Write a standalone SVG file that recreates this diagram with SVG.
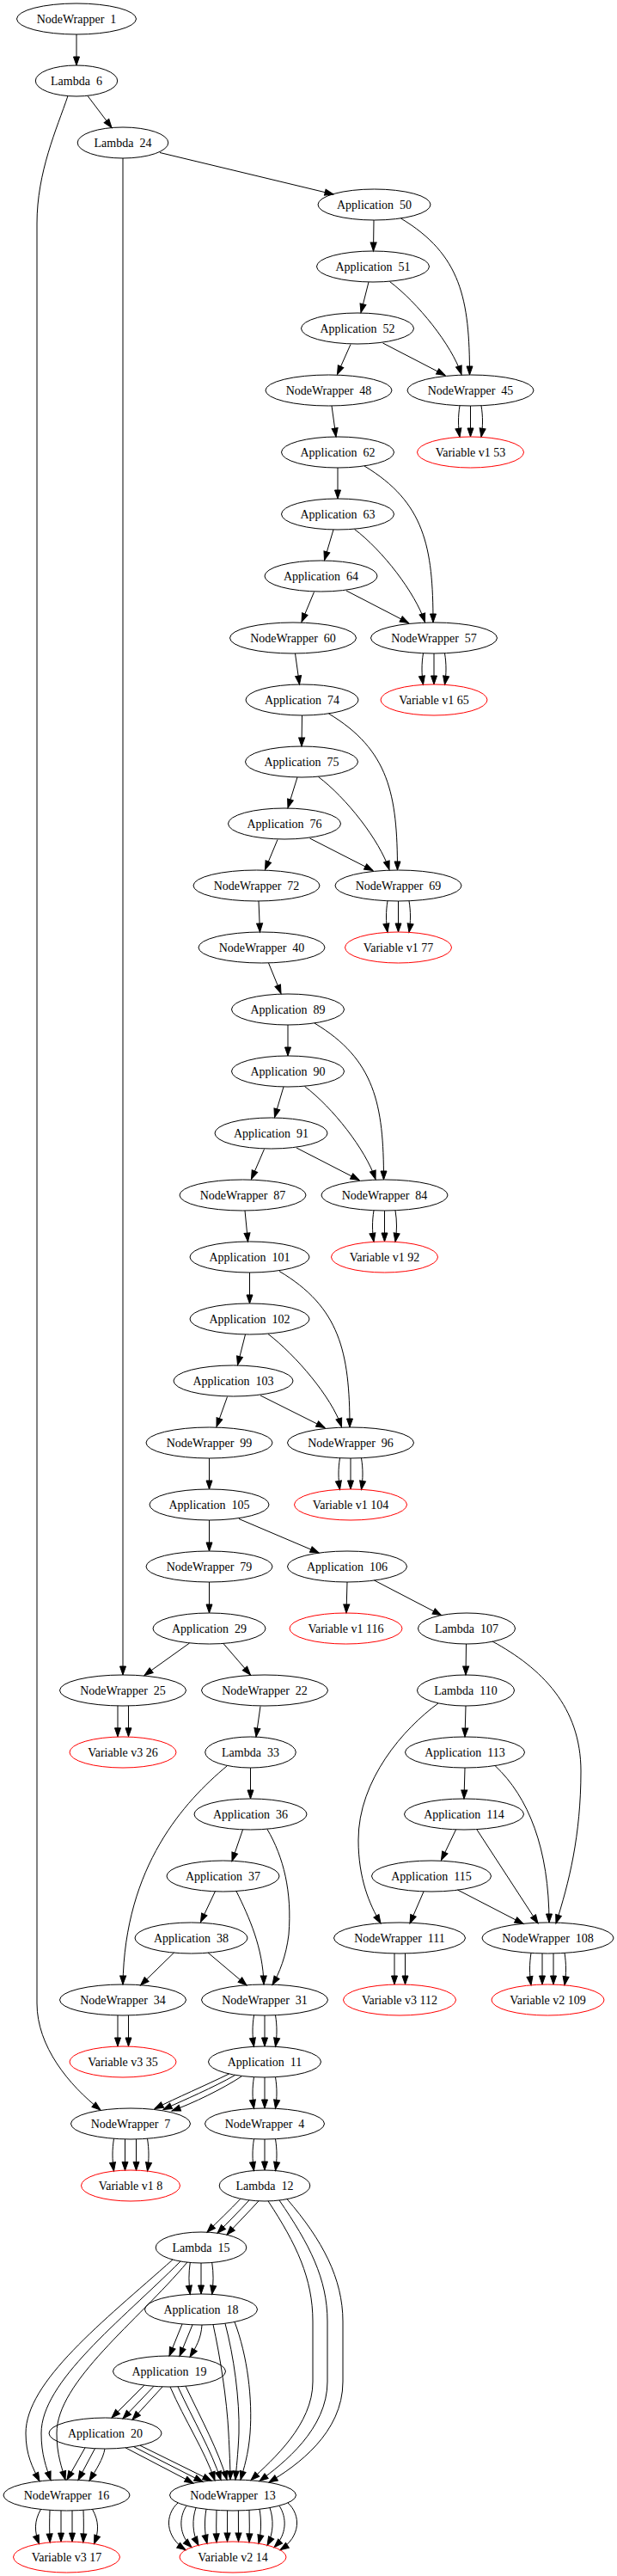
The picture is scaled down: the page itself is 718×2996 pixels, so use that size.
<svg xmlns="http://www.w3.org/2000/svg" width="718" height="2996" viewBox="0 0 718 2996">
<defs>
<marker id="a" markerUnits="userSpaceOnUse" markerWidth="10" markerHeight="7" refX="10" refY="3.5" orient="auto" overflow="visible"><path d="M0,0 L10,3.5 L0,7 Z" fill="#000" stroke="#000" stroke-width="1"/></marker>
<style>
.n ellipse{fill:none;stroke:#000;stroke-width:1}
.v ellipse{fill:none;stroke:#ff0000;stroke-width:1}
text{font-family:"Liberation Serif","Times New Roman",serif;font-size:14px;text-anchor:middle;white-space:pre;fill:#000}
.e path{fill:none;stroke:#000;stroke-width:1;marker-end:url(#a)}
</style>
</defs>
<rect x="0" y="0" width="718" height="2996" fill="#fff"/>
<g id="edges" class="e">
<path d="M89,40 L89,76"/>
<path d="M102,111.5 L130,148.5"/>
<path d="M79,111.5 C66,150 43,200 43,260 L43,2330 C43,2380 80,2425 117,2454"/>
<path d="M186,177.5 L388,226"/>
<path d="M143,184 L143,1948"/>
<path d="M435,256 L434.5,292"/>
<path d="M466.5,254 C536.5,296 546.5,348 546.5,436"/>
<path d="M429,328 L420,363.5"/>
<path d="M453.5,327.5 C486,352 525.5,401 537,435.5"/>
<path d="M408,400.5 L392.5,435.3"/>
<path d="M445.5,399 L518,436.5"/>
<path d="M535,471.8 C533,484 533,496 535,508.3"/>
<path d="M547.5,472 L547.5,508"/>
<path d="M560,471.8 C562,484 562,496 560,508.3"/>
<path d="M386,472 L391,508"/>
<path d="M393,544 L393,580"/>
<path d="M424,542 C494,584 504,636 504,724"/>
<path d="M388,616 L377.5,651.5"/>
<path d="M412.5,615.5 C445,640 483,689 494.5,723.5"/>
<path d="M365.5,688.5 L351,723.3"/>
<path d="M403,687 L475.5,724.5"/>
<path d="M492.5,759.8 C490.5,772 490.5,784 492.5,796.3"/>
<path d="M505,760 L505,796"/>
<path d="M517.5,759.8 C519.5,772 519.5,784 517.5,796.3"/>
<path d="M343.5,760 L348.5,796"/>
<path d="M351.5,832 L351,868"/>
<path d="M382.5,830 C452.5,872 462.5,924 462.5,1012"/>
<path d="M346,904 L335,939.5"/>
<path d="M370.5,903.5 C403,928 441.5,977 453,1011.5"/>
<path d="M323,976.5 L308.5,1011.3"/>
<path d="M360.5,975 L434,1012.5"/>
<path d="M451,1047.8 C449,1060 449,1072 451,1084.3"/>
<path d="M463.5,1048 L463.5,1084"/>
<path d="M476,1047.8 C478,1060 478,1072 476,1084.3"/>
<path d="M301,1048 L302.5,1084"/>
<path d="M312.5,1120 L327,1155.5"/>
<path d="M335,1192 L335,1228"/>
<path d="M366,1190 C436,1232 446.5,1284 446.5,1372"/>
<path d="M330,1264 L319.5,1299.5"/>
<path d="M354.5,1263.5 C387,1288 425.5,1337 437,1371.5"/>
<path d="M307.5,1336.5 L292.5,1371.3"/>
<path d="M345,1335 L418,1372.5"/>
<path d="M435,1407.8 C433,1420 433,1432 435,1444.3"/>
<path d="M447.5,1408 L447.5,1444"/>
<path d="M460,1407.8 C462,1420 462,1432 460,1444.3"/>
<path d="M285,1408 L288.5,1444"/>
<path d="M290.5,1480 L290.5,1516"/>
<path d="M325,1478.5 C395,1520 407,1572 407,1660"/>
<path d="M285.5,1552 L276.5,1587.5"/>
<path d="M312,1551.5 C344,1576 386,1625 397.5,1659.5"/>
<path d="M264.5,1624.5 L252,1659.3"/>
<path d="M303,1623 L378,1660.5"/>
<path d="M395.5,1695.8 C393.5,1708 393.5,1720 395.5,1732.4"/>
<path d="M408,1696 L408,1732"/>
<path d="M420.5,1695.8 C422.5,1708 422.5,1720 420.5,1732.4"/>
<path d="M243.5,1696 L243.5,1732"/>
<path d="M243.5,1768 L243.5,1804"/>
<path d="M278,1766.5 L371,1806"/>
<path d="M404,1840 L403,1876"/>
<path d="M435.5,1838 L513.5,1878.5"/>
<path d="M243.5,1840 L243.5,1876"/>
<path d="M220.5,1911 L168,1948.5"/>
<path d="M259.5,1911 L291.5,1948"/>
<path d="M542.5,1912 L542,1948"/>
<path d="M573,1909 C630,1940 676,1985 676,2060 C676,2135 662,2190 647,2237"/>
<path d="M510,1981 C470,2010 417,2070 417,2140 C417,2185 430,2215 443,2237"/>
<path d="M542,1984 L541,2020"/>
<path d="M137,1983.8 L137,2019.8"/>
<path d="M149.5,1983.8 L149.5,2019.8"/>
<path d="M303,1984.5 L298,2020"/>
<path d="M291.5,2056 L291.5,2092"/>
<path d="M264,2054 C215,2095 145,2170 143,2308"/>
<path d="M541,2056 L540,2092"/>
<path d="M576,2053.5 C615,2090 639,2150 639,2236"/>
<path d="M282.5,2128 L270,2164.5"/>
<path d="M311,2127.5 C330,2160 340,2200 336,2250 C333,2275 325,2295 317,2308.5"/>
<path d="M530.5,2128 L513.5,2163.5"/>
<path d="M555,2128 L626,2237"/>
<path d="M250.5,2199.5 L233.5,2235.5"/>
<path d="M275,2199.5 C290,2230 306,2265 307,2308"/>
<path d="M493,2200 L477,2237"/>
<path d="M532.5,2198 L609,2237.5"/>
<path d="M202.5,2271 L163.5,2309"/>
<path d="M242,2271 L287,2309"/>
<path d="M459,2272 L459,2308"/>
<path d="M471.5,2272 L471.5,2308"/>
<path d="M618,2271.4 C616,2284 616,2296 618,2308.8"/>
<path d="M631,2272 L631,2308"/>
<path d="M644,2272 L644,2308"/>
<path d="M657,2271.4 C659,2284 659,2296 657,2308.8"/>
<path d="M137,2344 L137,2380"/>
<path d="M149.5,2344 L149.5,2380"/>
<path d="M295.5,2343.8 C293.5,2356 293.5,2368 295.5,2380.3"/>
<path d="M308,2344 L308,2380"/>
<path d="M320.5,2343.8 C322.5,2356 322.5,2368 320.5,2380.3"/>
<path d="M266.5,2412 C240,2425 205,2440 180,2452.5"/>
<path d="M273.5,2413.5 C248,2428 215,2442 190,2453.5"/>
<path d="M281,2415 C258,2430 225,2446 200,2455"/>
<path d="M295.5,2415.8 C293.5,2428 293.5,2440 295.5,2452.3"/>
<path d="M308,2416 L308,2452"/>
<path d="M320.5,2415.8 C322.5,2428 322.5,2440 320.5,2452.3"/>
<path d="M132.5,2487.3 C130.5,2500 130.5,2512 132.5,2525.1"/>
<path d="M145.5,2488 L145.5,2524.4"/>
<path d="M158.5,2488 L158.5,2524.4"/>
<path d="M171.5,2487.3 C173.5,2500 173.5,2512 171.5,2525.1"/>
<path d="M295.5,2487.8 C293.5,2500 293.5,2512 295.5,2524.5"/>
<path d="M308,2488 L308,2524"/>
<path d="M320.5,2487.8 C322.5,2500 322.5,2512 320.5,2524.5"/>
<path d="M280,2557.2 C268,2570 253,2584 241,2596.2"/>
<path d="M290,2558.9 C279,2571 265,2585 253,2597.2"/>
<path d="M301,2559.8 C290,2572 276,2586 264,2599.2"/>
<path d="M312,2559.9 C345,2610 364,2650 364,2700 L364,2770 C364,2820 318,2860 292,2884.5"/>
<path d="M325,2559 C360,2610 381,2650 381,2700 L381,2770 C381,2825 330,2865 302,2885.5"/>
<path d="M334,2557.6 C375,2605 399,2650 399,2700 L399,2770 C399,2830 345,2868 313,2887"/>
<path d="M221.3,2631.3 C219.5,2643 219.5,2656 221.3,2668.3"/>
<path d="M234,2632 L234,2668"/>
<path d="M246.7,2631.3 C248.5,2643 248.5,2656 246.7,2668.3"/>
<path d="M201,2628 C120,2700 30,2770 30,2830 C30,2855 38,2870 46,2885.7"/>
<path d="M210,2630 C140,2700 48,2770 48,2830 C48,2855 54,2870 59,2884.6"/>
<path d="M218,2631 C160,2700 66,2770 66,2830 C66,2855 72,2870 76,2884"/>
<path d="M212,2703 L197,2740"/>
<path d="M224,2703.8 L209,2740.3"/>
<path d="M235,2704 C234,2720 228,2730 221,2741.3"/>
<path d="M248,2703.5 C256,2740 264,2790 266,2830 C267,2850 268,2870 268,2884"/>
<path d="M262,2702.3 C272,2740 279,2790 278,2830 C277,2855 275,2870 274,2884"/>
<path d="M273,2700.5 C288,2740 294,2790 291,2830 C289,2855 284,2870 280,2884.1"/>
<path d="M168,2774 L130,2812"/>
<path d="M179,2775.3 L143,2813"/>
<path d="M189,2776 L154,2814.2"/>
<path d="M198,2776 C215,2815 238,2850 250,2884.7"/>
<path d="M207,2775.8 C225,2815 246,2850 257,2884.4"/>
<path d="M216,2775.2 C235,2815 254,2850 264,2884.1"/>
<path d="M99,2846.8 L78,2884"/>
<path d="M110.5,2847.7 L91,2884.3"/>
<path d="M122,2848 C120,2860 112,2872 104,2885.2"/>
<path d="M146,2846.8 L225,2888"/>
<path d="M155.5,2845.6 L236,2886.6"/>
<path d="M163,2844.2 L246,2885.1"/>
<path d="M71,2919.9 L71,2956.1"/>
<path d="M84,2919.9 L84,2956.1"/>
<path d="M58,2919.4 C57.5,2932 57.5,2944 58.2,2956.9"/>
<path d="M97,2919.4 C97.5,2932 97.5,2944 96.8,2956.9"/>
<path d="M47.5,2918.4 C39.8,2932 39.8,2944 45.5,2958.6"/>
<path d="M107.5,2918.4 C115.2,2932 115.2,2944 109.5,2958.6"/>
<path d="M264.6,2919.9 L264.5,2956.1"/>
<path d="M252,2919.4 C251.6,2932 251.6,2944 252,2956.9"/>
<path d="M240,2918.3 C237.8,2931 237.8,2945 241,2958.3"/>
<path d="M228,2916.6 C223.5,2930 223.5,2946 231,2960.3"/>
<path d="M217,2914.3 C208,2928 208,2948 223,2962.6"/>
<path d="M207,2911 C191.7,2925 191.7,2950 216,2965.7"/>
<path d="M277.4,2919.9 L277.5,2956.1"/>
<path d="M290,2919.4 C290.4,2932 290.4,2944 290,2956.9"/>
<path d="M302,2918.3 C304.2,2931 304.2,2945 301,2958.3"/>
<path d="M314,2916.6 C318.5,2930 318.5,2946 311,2960.3"/>
<path d="M325,2914.3 C334,2928 334,2948 319,2962.6"/>
<path d="M335,2911 C350.3,2925 350.3,2950 326,2965.7"/>
</g>
<g id="NodeWrapper_1" class="n"><ellipse cx="89" cy="22" rx="69.5" ry="18"/><text x="89" y="26.5">NodeWrapper  1</text></g>
<g id="Lambda_6" class="n"><ellipse cx="89" cy="94" rx="47.7" ry="18"/><text x="89" y="98.5">Lambda  6</text></g>
<g id="Lambda_24" class="n"><ellipse cx="143" cy="166" rx="52.8" ry="18"/><text x="143" y="170.5">Lambda  24</text></g>
<g id="Application_50" class="n"><ellipse cx="435.5" cy="238" rx="65.5" ry="18"/><text x="435.5" y="242.5">Application  50</text></g>
<g id="Application_51" class="n"><ellipse cx="434" cy="310" rx="65.5" ry="18"/><text x="434" y="314.5">Application  51</text></g>
<g id="Application_52" class="n"><ellipse cx="416" cy="382" rx="65.5" ry="18"/><text x="416" y="386.5">Application  52</text></g>
<g id="NodeWrapper_48" class="n"><ellipse cx="382.5" cy="454" rx="73.5" ry="18"/><text x="382.5" y="458.5">NodeWrapper  48</text></g>
<g id="NodeWrapper_45" class="n"><ellipse cx="547.5" cy="454" rx="73.5" ry="18"/><text x="547.5" y="458.5">NodeWrapper  45</text></g>
<g id="Application_62" class="n"><ellipse cx="393" cy="526" rx="65.5" ry="18"/><text x="393" y="530.5">Application  62</text></g>
<g id="Variable_v1_53" class="v"><ellipse cx="547.5" cy="526" rx="62" ry="18"/><text x="547.5" y="530.5">Variable v1 53</text></g>
<g id="Application_63" class="n"><ellipse cx="393" cy="598" rx="65.5" ry="18"/><text x="393" y="602.5">Application  63</text></g>
<g id="Application_64" class="n"><ellipse cx="373.5" cy="670" rx="65.5" ry="18"/><text x="373.5" y="674.5">Application  64</text></g>
<g id="NodeWrapper_60" class="n"><ellipse cx="341" cy="742" rx="73.5" ry="18"/><text x="341" y="746.5">NodeWrapper  60</text></g>
<g id="NodeWrapper_57" class="n"><ellipse cx="505" cy="742" rx="73.5" ry="18"/><text x="505" y="746.5">NodeWrapper  57</text></g>
<g id="Application_74" class="n"><ellipse cx="351.5" cy="814" rx="65.5" ry="18"/><text x="351.5" y="818.5">Application  74</text></g>
<g id="Variable_v1_65" class="v"><ellipse cx="505" cy="814" rx="62" ry="18"/><text x="505" y="818.5">Variable v1 65</text></g>
<g id="Application_75" class="n"><ellipse cx="351" cy="886" rx="65.5" ry="18"/><text x="351" y="890.5">Application  75</text></g>
<g id="Application_76" class="n"><ellipse cx="331" cy="958" rx="65.5" ry="18"/><text x="331" y="962.5">Application  76</text></g>
<g id="NodeWrapper_72" class="n"><ellipse cx="298.5" cy="1030" rx="73.5" ry="18"/><text x="298.5" y="1034.5">NodeWrapper  72</text></g>
<g id="NodeWrapper_69" class="n"><ellipse cx="463.5" cy="1030" rx="73.5" ry="18"/><text x="463.5" y="1034.5">NodeWrapper  69</text></g>
<g id="NodeWrapper_40" class="n"><ellipse cx="304.5" cy="1102" rx="73.5" ry="18"/><text x="304.5" y="1106.5">NodeWrapper  40</text></g>
<g id="Variable_v1_77" class="v"><ellipse cx="463.5" cy="1102" rx="62" ry="18"/><text x="463.5" y="1106.5">Variable v1 77</text></g>
<g id="Application_89" class="n"><ellipse cx="335" cy="1174" rx="65.5" ry="18"/><text x="335" y="1178.5">Application  89</text></g>
<g id="Application_90" class="n"><ellipse cx="335" cy="1246" rx="65.5" ry="18"/><text x="335" y="1250.5">Application  90</text></g>
<g id="Application_91" class="n"><ellipse cx="315.5" cy="1318" rx="65.5" ry="18"/><text x="315.5" y="1322.5">Application  91</text></g>
<g id="NodeWrapper_87" class="n"><ellipse cx="282.5" cy="1390" rx="73.5" ry="18"/><text x="282.5" y="1394.5">NodeWrapper  87</text></g>
<g id="NodeWrapper_84" class="n"><ellipse cx="447.5" cy="1390" rx="73.5" ry="18"/><text x="447.5" y="1394.5">NodeWrapper  84</text></g>
<g id="Application_101" class="n"><ellipse cx="290.5" cy="1462" rx="69.5" ry="18"/><text x="290.5" y="1466.5">Application  101</text></g>
<g id="Variable_v1_92" class="v"><ellipse cx="447.5" cy="1462" rx="62" ry="18"/><text x="447.5" y="1466.5">Variable v1 92</text></g>
<g id="Application_102" class="n"><ellipse cx="290.5" cy="1534" rx="69.5" ry="18"/><text x="290.5" y="1538.5">Application  102</text></g>
<g id="Application_103" class="n"><ellipse cx="271.5" cy="1606" rx="69.5" ry="18"/><text x="271.5" y="1610.5">Application  103</text></g>
<g id="NodeWrapper_99" class="n"><ellipse cx="243.5" cy="1678" rx="73.5" ry="18"/><text x="243.5" y="1682.5">NodeWrapper  99</text></g>
<g id="NodeWrapper_96" class="n"><ellipse cx="408" cy="1678" rx="73.5" ry="18"/><text x="408" y="1682.5">NodeWrapper  96</text></g>
<g id="Application_105" class="n"><ellipse cx="243.5" cy="1750" rx="69.5" ry="18"/><text x="243.5" y="1754.5">Application  105</text></g>
<g id="Variable_v1_104" class="v"><ellipse cx="408" cy="1750" rx="65.5" ry="18"/><text x="408" y="1754.5">Variable v1 104</text></g>
<g id="NodeWrapper_79" class="n"><ellipse cx="243.5" cy="1822" rx="73.5" ry="18"/><text x="243.5" y="1826.5">NodeWrapper  79</text></g>
<g id="Application_106" class="n"><ellipse cx="404" cy="1822" rx="69.5" ry="18"/><text x="404" y="1826.5">Application  106</text></g>
<g id="Application_29" class="n"><ellipse cx="243.5" cy="1894" rx="65.5" ry="18"/><text x="243.5" y="1898.5">Application  29</text></g>
<g id="Variable_v1_116" class="v"><ellipse cx="402.5" cy="1894" rx="65.5" ry="18"/><text x="402.5" y="1898.5">Variable v1 116</text></g>
<g id="Lambda_107" class="n"><ellipse cx="543" cy="1894" rx="56.5" ry="18"/><text x="543" y="1898.5">Lambda  107</text></g>
<g id="NodeWrapper_25" class="n"><ellipse cx="143" cy="1966" rx="73.5" ry="18"/><text x="143" y="1970.5">NodeWrapper  25</text></g>
<g id="NodeWrapper_22" class="n"><ellipse cx="308" cy="1966" rx="73.5" ry="18"/><text x="308" y="1970.5">NodeWrapper  22</text></g>
<g id="Lambda_110" class="n"><ellipse cx="542" cy="1966" rx="56.5" ry="18"/><text x="542" y="1970.5">Lambda  110</text></g>
<g id="Variable_v3_26" class="v"><ellipse cx="143" cy="2038" rx="62" ry="18"/><text x="143" y="2042.5">Variable v3 26</text></g>
<g id="Lambda_33" class="n"><ellipse cx="291.5" cy="2038" rx="52.8" ry="18"/><text x="291.5" y="2042.5">Lambda  33</text></g>
<g id="Application_113" class="n"><ellipse cx="541" cy="2038" rx="69.5" ry="18"/><text x="541" y="2042.5">Application  113</text></g>
<g id="Application_36" class="n"><ellipse cx="291.5" cy="2110" rx="65.5" ry="18"/><text x="291.5" y="2114.5">Application  36</text></g>
<g id="Application_114" class="n"><ellipse cx="540" cy="2110" rx="69.5" ry="18"/><text x="540" y="2114.5">Application  114</text></g>
<g id="Application_37" class="n"><ellipse cx="259.5" cy="2182" rx="65.5" ry="18"/><text x="259.5" y="2186.5">Application  37</text></g>
<g id="Application_115" class="n"><ellipse cx="502" cy="2182" rx="69.5" ry="18"/><text x="502" y="2186.5">Application  115</text></g>
<g id="Application_38" class="n"><ellipse cx="222.5" cy="2254" rx="65.5" ry="18"/><text x="222.5" y="2258.5">Application  38</text></g>
<g id="NodeWrapper_111" class="n"><ellipse cx="465" cy="2254" rx="76.5" ry="18"/><text x="465" y="2258.5">NodeWrapper  111</text></g>
<g id="NodeWrapper_108" class="n"><ellipse cx="637.5" cy="2254" rx="76.5" ry="18"/><text x="637.5" y="2258.5">NodeWrapper  108</text></g>
<g id="NodeWrapper_34" class="n"><ellipse cx="143" cy="2326" rx="73.5" ry="18"/><text x="143" y="2330.5">NodeWrapper  34</text></g>
<g id="NodeWrapper_31" class="n"><ellipse cx="308" cy="2326" rx="73.5" ry="18"/><text x="308" y="2330.5">NodeWrapper  31</text></g>
<g id="Variable_v3_112" class="v"><ellipse cx="465" cy="2326" rx="65.5" ry="18"/><text x="465" y="2330.5">Variable v3 112</text></g>
<g id="Variable_v2_109" class="v"><ellipse cx="637.5" cy="2326" rx="65.5" ry="18"/><text x="637.5" y="2330.5">Variable v2 109</text></g>
<g id="Variable_v3_35" class="v"><ellipse cx="143" cy="2398" rx="62" ry="18"/><text x="143" y="2402.5">Variable v3 35</text></g>
<g id="Application_11" class="n"><ellipse cx="308" cy="2398" rx="65.5" ry="18"/><text x="308" y="2402.5">Application  11</text></g>
<g id="NodeWrapper_7" class="n"><ellipse cx="152" cy="2470" rx="69.5" ry="18"/><text x="152" y="2474.5">NodeWrapper  7</text></g>
<g id="NodeWrapper_4" class="n"><ellipse cx="308" cy="2470" rx="69.5" ry="18"/><text x="308" y="2474.5">NodeWrapper  4</text></g>
<g id="Variable_v1_8" class="v"><ellipse cx="152" cy="2542" rx="57.5" ry="18"/><text x="152" y="2546.5">Variable v1 8</text></g>
<g id="Lambda_12" class="n"><ellipse cx="308" cy="2542" rx="52.8" ry="18"/><text x="308" y="2546.5">Lambda  12</text></g>
<g id="Lambda_15" class="n"><ellipse cx="234" cy="2614" rx="52.8" ry="18"/><text x="234" y="2618.5">Lambda  15</text></g>
<g id="Application_18" class="n"><ellipse cx="234" cy="2686" rx="65.5" ry="18"/><text x="234" y="2690.5">Application  18</text></g>
<g id="Application_19" class="n"><ellipse cx="197" cy="2758" rx="65.5" ry="18"/><text x="197" y="2762.5">Application  19</text></g>
<g id="Application_20" class="n"><ellipse cx="122.5" cy="2830" rx="65.5" ry="18"/><text x="122.5" y="2834.5">Application  20</text></g>
<g id="NodeWrapper_16" class="n"><ellipse cx="77.5" cy="2902" rx="73.5" ry="18"/><text x="77.5" y="2906.5">NodeWrapper  16</text></g>
<g id="NodeWrapper_13" class="n"><ellipse cx="271" cy="2902" rx="73.5" ry="18"/><text x="271" y="2906.5">NodeWrapper  13</text></g>
<g id="Variable_v3_17" class="v"><ellipse cx="77.5" cy="2974" rx="62" ry="18"/><text x="77.5" y="2978.5">Variable v3 17</text></g>
<g id="Variable_v2_14" class="v"><ellipse cx="271" cy="2974" rx="62" ry="18"/><text x="271" y="2978.5">Variable v2 14</text></g>
</svg>
